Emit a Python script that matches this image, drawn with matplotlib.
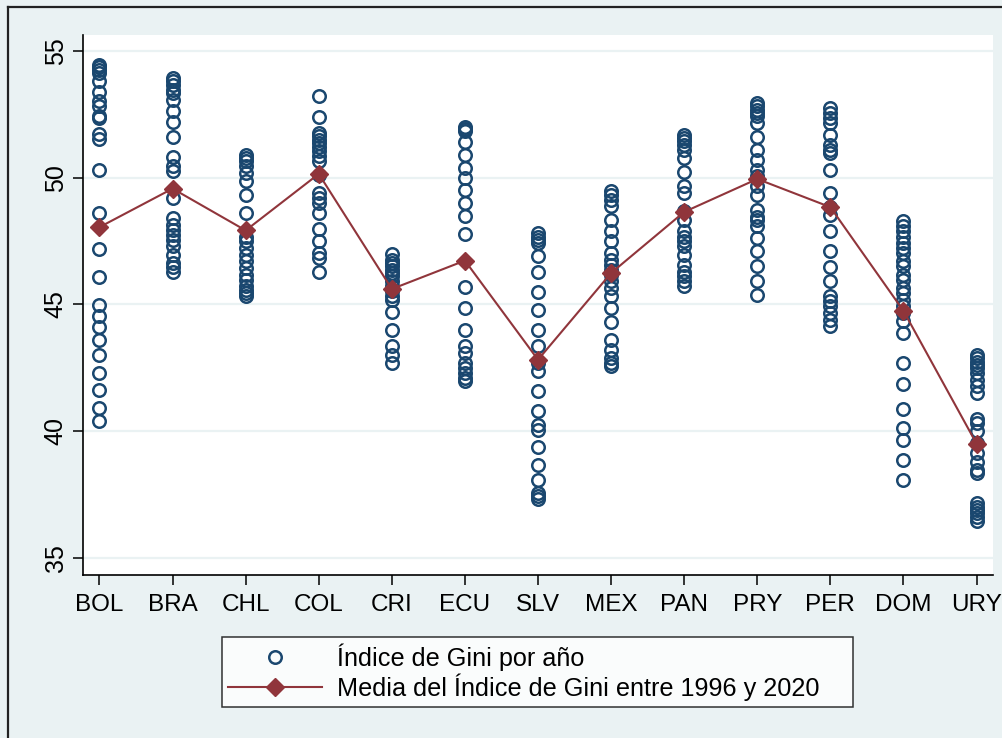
import matplotlib
matplotlib.use("Agg")
import matplotlib.pyplot as plt
from matplotlib.lines import Line2D

plt.rcParams['font.family'] = ['Liberation Sans', 'DejaVu Sans']

countries = ["BOL", "BRA", "CHL", "COL", "CRI", "ECU", "SLV", "MEX", "PAN", "PRY", "PER", "DOM", "URY"]

# Gini por año
bol = [54.46, 54.37, 54.26, 54.13, 53.80, 53.40, 53.01, 52.81, 52.45, 52.36, 51.72, 51.53, 50.32,
       48.61, 47.19, 46.08, 44.99, 44.53, 44.11, 43.58, 43.02, 42.30, 41.61, 40.92, 40.39]
bra = [53.93, 53.80, 53.67, 53.47, 53.34, 53.08, 52.62, 52.18, 51.61, 50.82, 50.45, 50.25, 49.20,
       48.41, 48.15, 47.95, 47.75, 47.55, 47.29, 46.96, 46.63, 46.48, 46.30]
chl = [50.91, 50.78, 50.64, 50.47, 50.19, 49.88, 49.30, 48.61, 47.68, 47.49, 47.23, 46.96, 46.70,
       46.44, 46.17, 45.98, 45.71, 45.58, 45.45, 45.32]
col = [53.21, 52.39, 51.76, 51.63, 51.50, 51.37, 51.23, 51.04, 50.84, 50.64, 50.12, 49.40, 49.20,
       49.00, 48.61, 47.99, 47.49, 47.03, 46.83, 46.30]
cri = [47.00, 46.77, 46.64, 46.50, 46.37, 46.24, 46.11, 45.91, 45.71, 45.52, 45.32, 45.19, 44.70,
       44.00, 43.38, 43.02, 42.69]
ecu = [52.02, 51.92, 51.83, 51.39, 50.91, 50.38, 49.99, 49.50, 49.00, 48.50, 47.78, 45.69, 44.88,
       44.00, 43.37, 43.08, 42.69, 42.49, 42.30, 42.10, 41.97]
slv = [47.82, 47.68, 47.55, 47.42, 46.90, 46.28, 45.48, 44.79, 43.98, 43.37, 42.69, 42.36, 41.57,
       40.78, 40.26, 40.06, 39.36, 38.65, 38.06, 37.56, 37.43, 37.33]
mex = [49.46, 49.33, 49.13, 48.87, 48.34, 47.88, 47.49, 47.03, 46.77, 46.57, 46.37, 46.17, 45.91,
       45.65, 45.32, 44.88, 44.29, 43.61, 43.19, 42.89, 42.69, 42.56]
pan = [51.70, 51.57, 51.43, 51.30, 51.10, 50.78, 50.21, 49.66, 49.40, 48.67, 48.34, 47.88, 47.68,
       47.49, 47.29, 46.96, 46.57, 46.30, 46.11, 45.91, 45.71]
pry = [52.95, 52.81, 52.68, 52.55, 52.42, 52.16, 51.61, 51.10, 50.71, 50.32, 50.05, 49.66, 49.33,
       48.74, 48.47, 48.34, 48.08, 47.62, 47.09, 46.50, 45.91, 45.38]
per = [52.75, 52.55, 52.36, 52.16, 51.70, 51.30, 51.10, 50.97, 50.29, 49.40, 48.83, 48.54, 47.88,
       47.09, 46.48, 45.91, 45.32, 45.12, 44.92, 44.66, 44.40, 44.16]
dom = [48.28, 48.08, 47.88, 47.68, 47.42, 47.23, 47.03, 46.70, 46.50, 46.17, 45.98, 45.65, 45.45,
       45.19, 44.92, 44.66, 44.33, 43.87, 42.69, 41.87, 40.87, 40.13, 39.66, 38.87, 38.09]
ury = [43.02, 42.89, 42.75, 42.62, 42.49, 42.30, 42.03, 41.77, 41.51, 40.48, 40.32, 39.99, 39.53,
       39.14, 38.77, 38.48, 38.35, 37.17, 37.03, 36.90, 36.77, 36.63, 36.44]

gini_by_year = [bol, bra, chl, col, cri, ecu, slv, mex, pan, pry, per, dom, ury]

# Media 1996-2020
gini_mean = [48.05, 49.57, 47.92, 50.15, 45.61, 46.73, 42.82, 46.24, 48.65, 49.95, 48.84, 44.75, 39.51]

navy = "#1a476f"
maroon = "#90353b"
bg = "#eaf2f3"

fig = plt.figure(figsize=(10.03, 7.38), dpi=100)
fig.patch.set_facecolor(bg)
ax = fig.add_axes([0.0828, 0.2209, 0.9072, 0.7317])
ax.set_facecolor("white")

xpos = list(range(1, len(countries) + 1))

for i, vals in enumerate(gini_by_year):
    ax.plot([xpos[i]] * len(vals), vals, linestyle="none", marker="o", markersize=9,
            markerfacecolor="none", markeredgecolor=navy, markeredgewidth=1.8, zorder=3)

ax.plot(xpos, gini_mean, color=maroon, linewidth=1.5, marker="D", markersize=9.5,
        markerfacecolor=maroon, markeredgecolor=maroon, zorder=4)

ax.set_xlim(0.775, 13.225)
ax.set_ylim(34.33, 55.63)
ax.set_yticks([35, 40, 45, 50, 55])
ax.set_xticks(xpos)
ax.set_xticklabels(countries)
ax.grid(axis="y", color=bg, linewidth=1.6, zorder=0)
ax.set_axisbelow(True)

for s in ["top", "right"]:
    ax.spines[s].set_visible(False)
for s in ["left", "bottom"]:
    ax.spines[s].set_linewidth(1.2)
    ax.spines[s].set_color("black")

ax.tick_params(axis="y", length=7, width=1.1, labelsize=18, pad=4)
ax.tick_params(axis="x", length=7, width=1.1, labelsize=17.5, pad=7)
for lab in ax.get_yticklabels():
    lab.set_rotation(90)
    lab.set_va("center")

handles = [
    Line2D([], [], linestyle="none", marker="o", markersize=9, markerfacecolor="none",
           markeredgecolor=navy, markeredgewidth=1.8),
    Line2D([], [], color=maroon, linewidth=1.5, marker="D", markersize=9.5,
           markerfacecolor=maroon, markeredgecolor=maroon),
]
labels = ["Índice de Gini por año", "Media del Índice de Gini entre 1996 y 2020"]
leg = fig.legend(handles, labels, loc="lower left",
                 bbox_to_anchor=(222 / 1003, 1 - 707 / 738, 631 / 1003, 74 / 738),
                 mode="expand", fontsize=18.2, frameon=True, fancybox=False,
                 handlelength=3.7, handletextpad=0.6, borderpad=0.25, labelspacing=0.1,
                 borderaxespad=0)
leg.get_frame().set_edgecolor("black")
leg.get_frame().set_linewidth(1.1)
leg.get_frame().set_facecolor("white")

# marco exterior
fig.add_artist(Line2D([8 / 1003, 8 / 1003], [0, 1 - 7 / 738], transform=fig.transFigure,
                      color="#222222", linewidth=1.6))
fig.add_artist(Line2D([8 / 1003, 1], [1 - 7 / 738, 1 - 7 / 738], transform=fig.transFigure,
                      color="#222222", linewidth=1.6))

fig.savefig("out.png", dpi=100, facecolor=fig.get_facecolor())
